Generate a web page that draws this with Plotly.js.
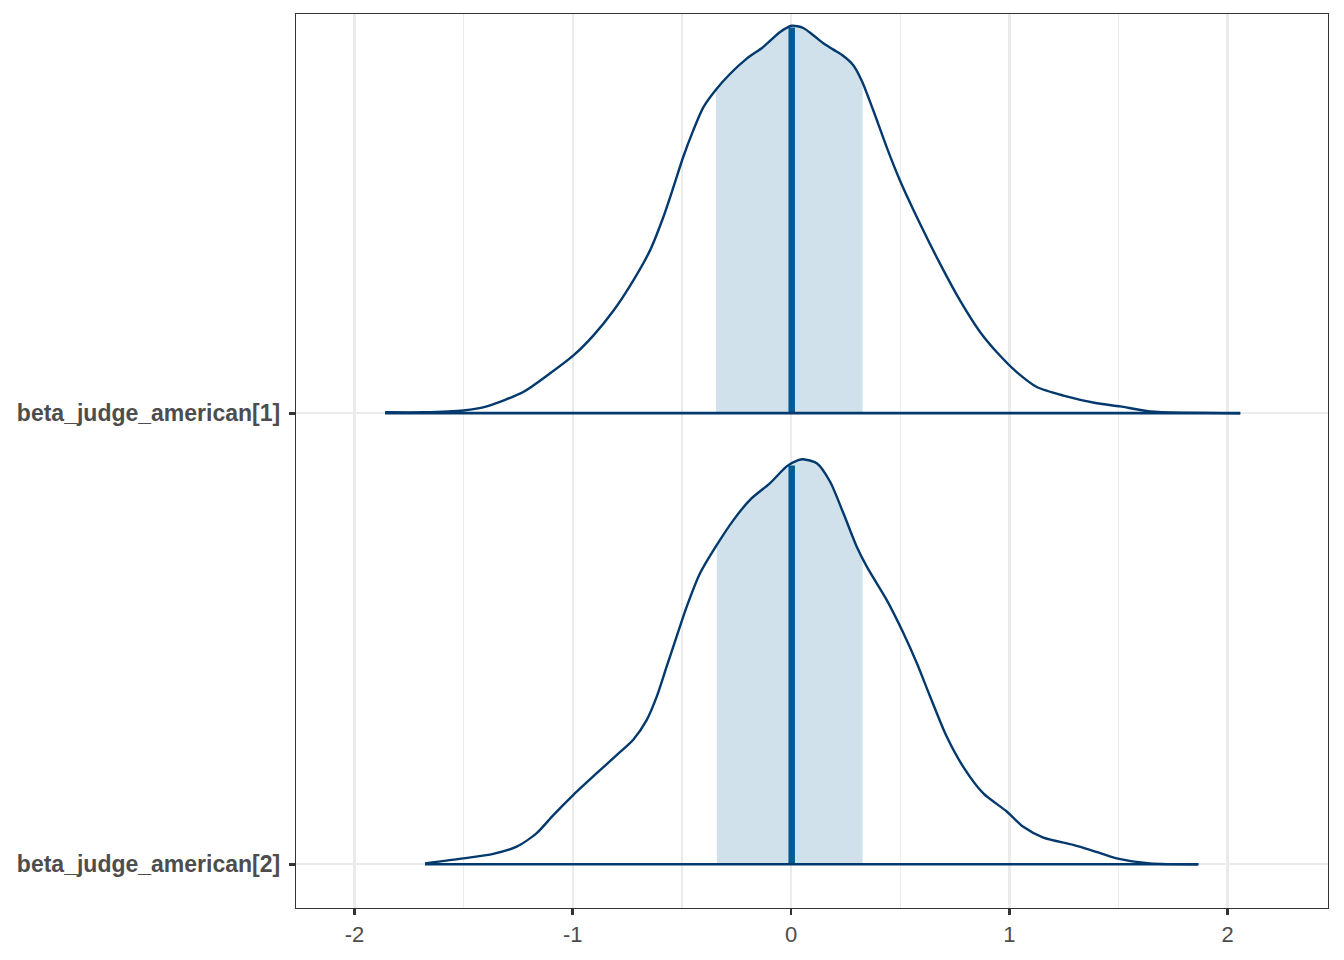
<!DOCTYPE html>
<html>
<head>
<meta charset="utf-8">
<script src="https://cdn.plot.ly/plotly-3.0.1.min.js"></script>
<style>html,body{margin:0;padding:0;background:#fff;}#chart{width:1344px;height:960px;}</style>
</head>
<body>
<div id="chart"></div>
<script>
// Parameters (top to bottom) and their ridge baseline positions
const paramLabels = ["beta_judge_american[1]", "beta_judge_american[2]"];
const paramPos = [2, 1];

// Density curve 1 (x, scaled height)
const dens1X = [-1.860, -1.685, -1.501, -1.394, -1.227, -1.119, -0.997, -0.906, -0.814, -0.723, -0.646, -0.585, -0.539, -0.494, -0.448, -0.402, -0.348, -0.280, -0.203, -0.127, -0.050, 0.003, 0.056, 0.102, 0.148, 0.194, 0.240, 0.286, 0.324, 0.377, 0.438, 0.499, 0.591, 0.683, 0.774, 0.866, 0.943, 1.034, 1.126, 1.248, 1.401, 1.508, 1.645, 2.058];
const dens1H = [0.002, 0.002, 0.006, 0.015, 0.047, 0.083, 0.128, 0.172, 0.227, 0.294, 0.361, 0.435, 0.501, 0.568, 0.627, 0.678, 0.715, 0.752, 0.786, 0.812, 0.845, 0.859, 0.854, 0.838, 0.820, 0.806, 0.792, 0.771, 0.737, 0.671, 0.590, 0.516, 0.420, 0.331, 0.250, 0.180, 0.135, 0.091, 0.058, 0.039, 0.022, 0.015, 0.004, 0.000];

// Density curve 2 (x, scaled height)
const dens2X = [-1.677, -1.501, -1.364, -1.257, -1.165, -1.089, -0.997, -0.890, -0.799, -0.723, -0.661, -0.615, -0.570, -0.524, -0.478, -0.417, -0.340, -0.264, -0.188, -0.096, -0.020, 0.033, 0.056, 0.118, 0.179, 0.240, 0.301, 0.347, 0.438, 0.515, 0.576, 0.637, 0.713, 0.789, 0.881, 0.988, 1.064, 1.156, 1.293, 1.370, 1.492, 1.645, 1.866];
const dens2H = [0.002, 0.013, 0.023, 0.039, 0.069, 0.109, 0.154, 0.202, 0.242, 0.276, 0.320, 0.372, 0.438, 0.505, 0.571, 0.645, 0.708, 0.763, 0.808, 0.845, 0.882, 0.896, 0.898, 0.889, 0.848, 0.778, 0.704, 0.660, 0.586, 0.512, 0.446, 0.372, 0.283, 0.216, 0.157, 0.117, 0.083, 0.059, 0.043, 0.032, 0.013, 0.002, 0.000];

// Inner interval bounds and medians
const intervalLo = [-0.344, -0.340];
const intervalHi = [0.328, 0.328];
const medians = [0.003, 0.003];

// Axis ticks
const xTickVals = [-2, -1, 0, 1, 2];
const xTickText = ["-2", "-1", "0", "1", "2"];
const xMinorVals = [-1.5, -0.5, 0.5, 1.5];

const densX = [dens1X, dens2X];
const densH = [dens1H, dens2H];

const colFill = "#d1e1ec";
const colMedian = "#005b96";
const colLine = "#03396c";

function interp(xs, hs, x) {
  for (let i = 0; i < xs.length - 1; i++) {
    if (x >= xs[i] && x <= xs[i + 1]) {
      const t = (x - xs[i]) / (xs[i + 1] - xs[i]);
      return hs[i] + t * (hs[i + 1] - hs[i]);
    }
  }
  return 0;
}

const traces = [];
for (let k = 0; k < paramLabels.length; k++) {
  const xs = densX[k], hs = densH[k], base = paramPos[k];
  const fx = [intervalLo[k]], fy = [base + interp(xs, hs, intervalLo[k])];
  for (let i = 0; i < xs.length; i++) {
    if (xs[i] > intervalLo[k] && xs[i] < intervalHi[k]) { fx.push(xs[i]); fy.push(base + hs[i]); }
  }
  fx.push(intervalHi[k]); fy.push(base + interp(xs, hs, intervalHi[k]));
  fx.push(intervalHi[k], intervalLo[k], intervalLo[k]); fy.push(base, base, fy[0]);
  traces.push({x: fx, y: fy, type: "scatter", mode: "lines", fill: "toself", fillcolor: colFill,
    line: {width: 0, color: colFill}, hoverinfo: "skip", showlegend: false});
}
for (let k = 0; k < paramLabels.length; k++) {
  const xs = densX[k], hs = densH[k], base = paramPos[k];
  traces.push({x: [medians[k], medians[k]], y: [base, base + interp(xs, hs, medians[k]) - 0.004], type: "scatter", mode: "lines",
    line: {color: colMedian, width: 6.5}, hoverinfo: "skip", showlegend: false});
}
for (let k = 0; k < paramLabels.length; k++) {
  const xs = densX[k], hs = densH[k], base = paramPos[k];
  traces.push({x: xs, y: hs.map(h => base + h), type: "scatter", mode: "lines",
    line: {color: colLine, width: 2.4, shape: "spline", smoothing: 0.7}, hoverinfo: "skip", showlegend: false});
  traces.push({x: [xs[0], xs[xs.length - 1]], y: [base, base], type: "scatter", mode: "lines",
    line: {color: colLine, width: 2.7}, hoverinfo: "skip", showlegend: false});
}

const layout = {
  width: 1344, height: 960,
  margin: {l: 296, r: 16, t: 14, b: 52},
  paper_bgcolor: "#ffffff", plot_bgcolor: "#ffffff",
  showlegend: false,
  font: {family: "Liberation Sans, Arial, sans-serif", color: "#4d4d4d"},
  xaxis: {
    range: [-2.268, 2.460], tickvals: xTickVals, ticktext: xTickText,
    showgrid: true, gridcolor: "#ebebeb", gridwidth: 2.4,
    minor: {showgrid: true, gridcolor: "#ebebeb", gridwidth: 1.2, tickvals: xMinorVals, ticks: ""},
    zeroline: false, showline: true, linecolor: "#333333", linewidth: 1.2, mirror: true,
    ticks: "outside", ticklen: 6, tickwidth: 2.7, tickcolor: "#333333",
    ticklabelstandoff: 0,
    tickfont: {size: 22, color: "#4d4d4d"}
  },
  yaxis: {
    range: [0.903, 2.885], tickvals: paramPos, ticktext: paramLabels,
    showgrid: true, gridcolor: "#ebebeb", gridwidth: 2.4,
    zeroline: false, showline: true, linecolor: "#333333", linewidth: 1.2, mirror: true,
    ticks: "outside", ticklen: 6, tickwidth: 2.7, tickcolor: "#333333",
    ticklabelstandoff: 4,
    tickfont: {size: 23, color: "#4d4d4d", weight: "bold"}
  }
};

Plotly.newPlot("chart", traces, layout, {displayModeBar: false, staticPlot: true});
</script>
</body>
</html>
